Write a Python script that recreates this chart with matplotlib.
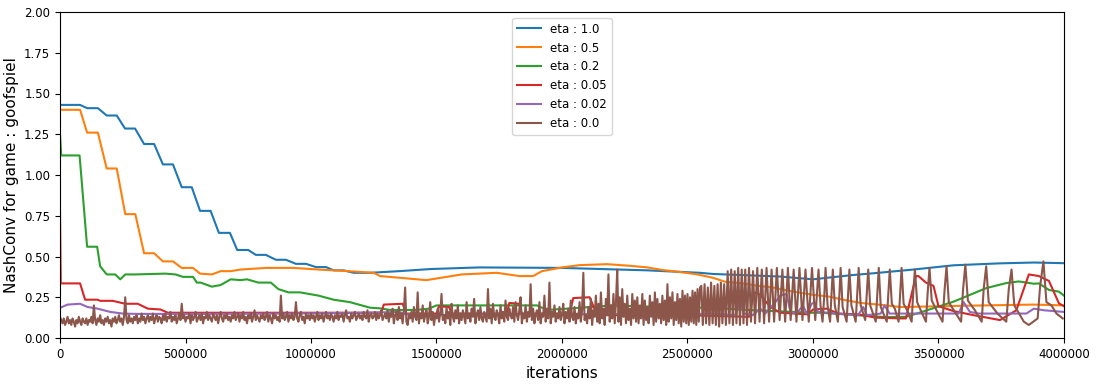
import numpy as np
import matplotlib
matplotlib.use("Agg")
import matplotlib.pyplot as plt

# ---------------- data (x in thousands of iterations) ----------------
labels = ["eta : 1.0", "eta : 0.5", "eta : 0.2", "eta : 0.05", "eta : 0.02", "eta : 0.0"]

eta10_x = [0, 80, 108, 151, 186, 226, 259, 299, 335, 375, 410, 450, 485, 525, 558, 600, 633, 677,
           706, 750, 780, 820, 860, 900, 940, 980, 1020, 1060, 1090, 1130, 1170, 1235, 1350, 1475,
           1670, 2000, 2340, 2550, 2600, 2870, 3000, 3150, 3240, 3400, 3560, 3745, 3880, 4000]
eta10_y = [1.43, 1.43, 1.41, 1.41, 1.365, 1.365, 1.285, 1.285, 1.19, 1.19, 1.065, 1.065, 0.925,
           0.925, 0.78, 0.78, 0.645, 0.645, 0.54, 0.54, 0.51, 0.51, 0.48, 0.48, 0.455, 0.455,
           0.435, 0.435, 0.415, 0.415, 0.40, 0.40, 0.41, 0.423, 0.433, 0.43, 0.415, 0.40, 0.393,
           0.377, 0.36, 0.385, 0.397, 0.42, 0.446, 0.458, 0.463, 0.459]

eta05_x = [0, 80, 108, 151, 186, 226, 260, 300, 335, 375, 410, 450, 485, 530, 558, 605, 640, 680,
           720, 820, 930, 1030, 1150, 1250, 1275, 1460, 1600, 1740, 1830, 1885, 1920, 2000, 2070,
           2180, 2270, 2340, 2400, 2470, 2540, 2600, 2650, 2720, 2780, 2840, 2870, 2920, 3000, 3060,
           3120, 3190, 3260, 3350, 3610, 3880, 4000]
eta05_y = [1.40, 1.40, 1.26, 1.26, 1.04, 1.04, 0.76, 0.76, 0.52, 0.52, 0.47, 0.47, 0.43, 0.43,
           0.395, 0.39, 0.41, 0.41, 0.42, 0.43, 0.43, 0.42, 0.41, 0.40, 0.38, 0.355, 0.39, 0.40,
           0.38, 0.38, 0.41, 0.433, 0.447, 0.453, 0.443, 0.433, 0.417, 0.405, 0.39, 0.37, 0.345,
           0.335, 0.32, 0.31, 0.30, 0.285, 0.265, 0.255, 0.235, 0.215, 0.205, 0.19, 0.198, 0.205, 0.20]

eta02_x = [0, 5, 78, 108, 148, 160, 186, 220, 240, 260, 300, 420, 460, 490, 530, 545, 560, 605,
           640, 680, 720, 745, 790, 840, 870, 910, 956, 1030, 1090, 1155, 1235, 1275, 1315, 1420,
           1470, 1500, 1590, 1900, 1940, 2020, 2200, 2400, 2600, 2740, 3000, 3030, 3290, 3370, 3430,
           3560, 3690, 3770, 3820, 3880, 3900, 3940, 3980, 4000]
eta02_y = [1.25, 1.12, 1.12, 0.56, 0.56, 0.44, 0.39, 0.39, 0.36, 0.39, 0.39, 0.395, 0.39, 0.375,
           0.375, 0.34, 0.34, 0.315, 0.325, 0.36, 0.355, 0.36, 0.34, 0.34, 0.30, 0.28, 0.28, 0.26,
           0.235, 0.22, 0.186, 0.182, 0.172, 0.172, 0.18, 0.20, 0.20, 0.20, 0.172, 0.18, 0.20, 0.19,
           0.185, 0.172, 0.155, 0.155, 0.128, 0.13, 0.158, 0.223, 0.306, 0.337, 0.347, 0.333, 0.335,
           0.295, 0.284, 0.26]

eta005_x = [0, 3, 80, 100, 150, 160, 210, 260, 310, 350, 400, 430, 700, 1000, 1280, 1290, 1365,
            1380, 1500, 1510, 1550, 1560, 1780, 1790, 1830, 1840, 2030, 2045, 2110, 2140, 2500,
            2745, 2765, 2790, 2830, 2870, 2980, 3000, 3055, 3100, 3180, 3250, 3350, 3370, 3410,
            3420, 3450, 3480, 3500, 3560, 3640, 3745, 3810, 3860, 3900, 3940, 3980, 4000]
eta005_y = [0.78, 0.335, 0.335, 0.235, 0.235, 0.228, 0.228, 0.21, 0.21, 0.18, 0.175, 0.155, 0.155,
            0.155, 0.155, 0.205, 0.21, 0.15, 0.15, 0.195, 0.19, 0.15, 0.15, 0.215, 0.21, 0.15, 0.15,
            0.245, 0.25, 0.14, 0.14, 0.13, 0.28, 0.265, 0.19, 0.155, 0.145, 0.175, 0.18, 0.15, 0.145,
            0.125, 0.12, 0.12, 0.38, 0.38, 0.34, 0.32, 0.195, 0.165, 0.14, 0.11, 0.17, 0.39, 0.38,
            0.35, 0.212, 0.195]

eta002_x = [0, 30, 80, 110, 150, 200, 250, 300, 600, 900, 1200, 1300, 1350, 1380, 1500, 1700,
            2000, 2300, 2500, 2600, 2690, 2710, 2725, 2760, 2790, 2810, 2850, 2870, 2895, 2910,
            2935, 2960, 2975, 2995, 3005, 3020, 3180, 3200, 3215, 3270, 3285, 3305, 3580, 3600,
            3625, 3660, 3850, 3880, 3920, 4000]
eta002_y = [0.185, 0.205, 0.21, 0.19, 0.18, 0.16, 0.15, 0.148, 0.148, 0.15, 0.155, 0.158, 0.16,
            0.145, 0.14, 0.148, 0.145, 0.148, 0.145, 0.15, 0.14, 0.23, 0.15, 0.14, 0.18, 0.15, 0.22,
            0.26, 0.27, 0.16, 0.15, 0.20, 0.15, 0.21, 0.22, 0.16, 0.14, 0.19, 0.14, 0.15, 0.20, 0.15,
            0.15, 0.22, 0.16, 0.15, 0.15, 0.18, 0.17, 0.16]

# eta 0.0: noisy part sampled every 5k iterations from 0 to 2550k
eta00_noise_y = [
    0.13, 0.11, 0.09, 0.12, 0.08, 0.10, 0.13, 0.09, 0.11, 0.08, 0.12, 0.10, 0.07, 0.11, 0.09, 0.13, 0.10, 0.08, 0.12, 0.10,
    0.09, 0.12, 0.08, 0.11, 0.10, 0.13, 0.09, 0.20, 0.11, 0.08, 0.12, 0.10, 0.14, 0.09, 0.11, 0.08, 0.12, 0.10, 0.13, 0.09,
    0.11, 0.07, 0.12, 0.10, 0.13, 0.09, 0.11, 0.14, 0.10, 0.12, 0.08, 0.13, 0.25, 0.11, 0.09, 0.14, 0.10, 0.12, 0.09, 0.13,
    0.11, 0.14, 0.09, 0.12, 0.10, 0.15, 0.11, 0.13, 0.09, 0.12, 0.14, 0.10, 0.13, 0.11, 0.15, 0.09, 0.12, 0.14, 0.10, 0.13,
    0.12, 0.09, 0.14, 0.11, 0.15, 0.10, 0.13, 0.12, 0.16, 0.10, 0.13, 0.11, 0.14, 0.09, 0.12, 0.15, 0.11, 0.21, 0.12, 0.14,
    0.10, 0.13, 0.12, 0.15, 0.09, 0.14, 0.11, 0.13, 0.16, 0.10, 0.12, 0.14, 0.11, 0.15, 0.09, 0.13, 0.12, 0.16, 0.11, 0.14,
    0.12, 0.10, 0.15, 0.13, 0.11, 0.14, 0.09, 0.13, 0.16, 0.12, 0.10, 0.14, 0.12, 0.15, 0.11, 0.13, 0.10, 0.14, 0.12, 0.16,
    0.11, 0.13, 0.15, 0.10, 0.14, 0.12, 0.16, 0.11, 0.13, 0.09, 0.14, 0.12, 0.15, 0.10, 0.13, 0.17, 0.11, 0.14, 0.12, 0.10,
    0.14, 0.12, 0.15, 0.11, 0.13, 0.16, 0.10, 0.14, 0.12, 0.09, 0.15, 0.12, 0.14, 0.11, 0.13, 0.10, 0.26, 0.12, 0.15, 0.11,
    0.13, 0.16, 0.10, 0.14, 0.12, 0.15, 0.11, 0.13, 0.22, 0.12, 0.10, 0.14, 0.16, 0.11, 0.13, 0.09, 0.15, 0.12, 0.14, 0.11,
    0.15, 0.12, 0.14, 0.10, 0.13, 0.16, 0.11, 0.14, 0.12, 0.15, 0.10, 0.13, 0.16, 0.12, 0.14, 0.11, 0.15, 0.13, 0.10, 0.14,
    0.12, 0.16, 0.11, 0.14, 0.13, 0.15, 0.10, 0.14, 0.17, 0.12, 0.13, 0.10, 0.15, 0.12, 0.14, 0.16, 0.11, 0.13, 0.15, 0.12,
    0.14, 0.11, 0.16, 0.13, 0.12, 0.17, 0.10, 0.14, 0.15, 0.12, 0.13, 0.16, 0.11, 0.15, 0.12, 0.14, 0.17, 0.11, 0.13, 0.15,
    0.12, 0.17, 0.10, 0.15, 0.13, 0.18, 0.09, 0.14, 0.16, 0.11, 0.19, 0.12, 0.15, 0.09, 0.17, 0.31, 0.10, 0.08, 0.14, 0.12,
    0.16, 0.10, 0.19, 0.13, 0.11, 0.28, 0.09, 0.15, 0.12, 0.20, 0.10, 0.14, 0.17, 0.09, 0.13, 0.22, 0.11, 0.16, 0.08, 0.14,
    0.12, 0.18, 0.10, 0.15, 0.27, 0.11, 0.14, 0.09, 0.19, 0.12, 0.16, 0.08, 0.21, 0.13, 0.10, 0.17, 0.12, 0.20, 0.09, 0.15,
    0.11, 0.17, 0.13, 0.09, 0.22, 0.12, 0.15, 0.10, 0.18, 0.13, 0.24, 0.09, 0.14, 0.17, 0.11, 0.19, 0.12, 0.10, 0.16, 0.13,
    0.10, 0.30, 0.12, 0.18, 0.09, 0.21, 0.13, 0.11, 0.17, 0.14, 0.09, 0.20, 0.12, 0.16, 0.10, 0.23, 0.13, 0.11, 0.18, 0.14,
    0.12, 0.19, 0.10, 0.22, 0.14, 0.11, 0.17, 0.25, 0.09, 0.15, 0.12, 0.20, 0.10, 0.16, 0.13, 0.33, 0.11, 0.18, 0.09, 0.14,
    0.17, 0.11, 0.22, 0.09, 0.15, 0.13, 0.26, 0.10, 0.18, 0.12, 0.34, 0.09, 0.16, 0.13, 0.20, 0.10, 0.15, 0.12, 0.19, 0.11,
    0.14, 0.21, 0.09, 0.16, 0.12, 0.18, 0.10, 0.23, 0.13, 0.11, 0.19, 0.09, 0.15, 0.12, 0.22, 0.10, 0.17, 0.40, 0.11, 0.14,
    0.09, 0.19, 0.12, 0.24, 0.08, 0.17, 0.13, 0.26, 0.10, 0.21, 0.09, 0.28, 0.12, 0.18, 0.08, 0.24, 0.14, 0.39, 0.10, 0.20,
    0.12, 0.27, 0.09, 0.22, 0.42, 0.10, 0.25, 0.08, 0.30, 0.13, 0.21, 0.09, 0.26, 0.11, 0.18, 0.08, 0.27, 0.12, 0.23, 0.10,
    0.25, 0.09, 0.20, 0.12, 0.27, 0.08, 0.23, 0.11, 0.19, 0.09, 0.26, 0.13, 0.22, 0.08, 0.28, 0.10, 0.24, 0.12, 0.21, 0.09,
    0.26, 0.11, 0.23, 0.08, 0.33, 0.10, 0.25, 0.12, 0.28, 0.08, 0.22, 0.11, 0.27, 0.09, 0.24, 0.07, 0.29, 0.10, 0.26, 0.09,
    0.27, 0.08, 0.25, 0.10, 0.29, 0.09, 0.28, 0.08, 0.30, 0.10, 0.31,
]
noise_step_k = 5

# eta 0.0: oscillating part (explicit points)
eta00_osc_x = [2555, 2561, 2568, 2574, 2581, 2587, 2594, 2600, 2607, 2613, 2620, 2626, 2633, 2639,
               2646, 2653, 2660, 2667, 2674, 2681, 2688, 2695, 2702, 2709, 2716, 2723, 2730, 2737,
               2745, 2753, 2761, 2769, 2778, 2787, 2796, 2805, 2815, 2825, 2835, 2845, 2856, 2867,
               2878, 2889, 2900, 2911, 2923, 2934, 2946, 2958, 2970, 2983, 2996, 3009, 3022,
               3030, 3038, 3045, 3050, 3058, 3068, 3074, 3079, 3087, 3099, 3105, 3110, 3118, 3134,
               3140, 3145, 3153, 3170, 3176, 3182, 3190, 3208, 3214, 3220, 3228, 3250, 3256, 3262,
               3270, 3294, 3300, 3306, 3314, 3326, 3341, 3347, 3353, 3361, 3375, 3393, 3399, 3406,
               3415, 3432, 3450, 3457, 3464, 3473, 3492, 3516, 3524, 3532, 3541, 3565, 3590, 3598,
               3607, 3617, 3645, 3672, 3680, 3690, 3700, 3735, 3770, 3780, 3791, 3802, 3840, 3860,
               3895, 3905, 3918, 3930, 3950, 3970, 3995]
eta00_osc_y = [0.32, 0.08, 0.33, 0.09, 0.31, 0.08, 0.34, 0.09, 0.32, 0.08, 0.33, 0.07, 0.34, 0.09,
               0.33, 0.08, 0.41, 0.09, 0.42, 0.08, 0.41, 0.09, 0.43, 0.08, 0.42, 0.09, 0.42, 0.08,
               0.43, 0.10, 0.41, 0.09, 0.43, 0.10, 0.42, 0.09, 0.43, 0.10, 0.42, 0.10, 0.43, 0.11,
               0.42, 0.10, 0.43, 0.11, 0.42, 0.10, 0.43, 0.11, 0.42, 0.10, 0.43, 0.11, 0.42,
               0.20, 0.10, 0.26, 0.43, 0.20, 0.10, 0.27, 0.42, 0.20, 0.10, 0.26, 0.43, 0.19, 0.10,
               0.27, 0.42, 0.20, 0.10, 0.26, 0.43, 0.20, 0.11, 0.27, 0.42, 0.20, 0.10, 0.26, 0.43,
               0.19, 0.10, 0.27, 0.42, 0.21, 0.18, 0.10, 0.26, 0.43, 0.21, 0.17, 0.10, 0.27, 0.42,
               0.22, 0.16, 0.10, 0.28, 0.43, 0.23, 0.17, 0.10, 0.29, 0.44, 0.22, 0.16, 0.10, 0.30,
               0.45, 0.23, 0.17, 0.10, 0.30, 0.44, 0.22, 0.15, 0.10, 0.30, 0.42, 0.20, 0.10, 0.08,
               0.12, 0.32, 0.47, 0.22, 0.20, 0.15, 0.12]

# ---------------- plotting ----------------
fig = plt.figure(figsize=(10.98, 3.84), dpi=100)
ax = fig.add_axes([60 / 1098, 46 / 384, 1004 / 1098, 326 / 384])

K = 1000
ax.plot(np.array(eta10_x) * K, eta10_y, label=labels[0])
ax.plot(np.array(eta05_x) * K, eta05_y, label=labels[1])
ax.plot(np.array(eta02_x) * K, eta02_y, label=labels[2])
ax.plot(np.array(eta005_x) * K, eta005_y, label=labels[3])
ax.plot(np.array(eta002_x) * K, eta002_y, label=labels[4])

noise_x = np.arange(len(eta00_noise_y)) * noise_step_k
b_x = np.concatenate([noise_x, eta00_osc_x]) * K
b_y = np.concatenate([eta00_noise_y, eta00_osc_y])
ax.plot(b_x, b_y, label=labels[5])

ax.set_xlim(0, 4000000)
ax.set_ylim(0, 2.0)
ax.set_yticks([0, 0.25, 0.5, 0.75, 1.0, 1.25, 1.5, 1.75, 2.0])
ax.set_yticklabels(["0.00", "0.25", "0.50", "0.75", "1.00", "1.25", "1.50", "1.75", "2.00"])
ax.set_xticks([0, 500000, 1000000, 1500000, 2000000, 2500000, 3000000, 3500000, 4000000])
ax.set_xticklabels(["0", "500000", "1000000", "1500000", "2000000", "2500000", "3000000",
                    "3500000", "4000000"])
ax.tick_params(labelsize=8.5)
ax.set_xlabel("iterations", fontsize=11)
ax.set_ylabel("NashConv for game : goofspiel", fontsize=11)
ax.legend(loc="upper center", fontsize=8.5)

fig.savefig("out.png", dpi=100)
